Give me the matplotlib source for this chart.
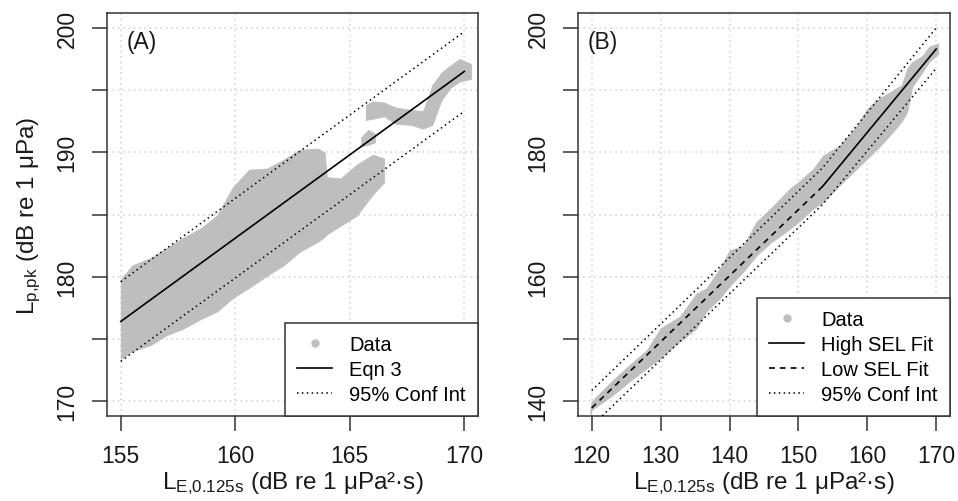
"""two panel peak level vs SEL chart"""

import matplotlib
matplotlib.use("Agg")
from matplotlib import pyplot as plt
from matplotlib.lines import Line2D

plt.rcParams['font.family'] = ['Liberation Sans', 'DejaVu Sans']
plt.rcParams['mathtext.fontset'] = 'custom'
plt.rcParams['mathtext.rm'] = 'Liberation Sans'
plt.rcParams['mathtext.it'] = 'Liberation Sans:italic'

PT_GRAY = '#bebebe'
GRID_GRAY = '#cfcfcf'
INK = '#1a1a1a'

# ---- panel A : data cloud outlines (x, upper edge, lower edge)
a_main_x = [155.0, 155.5, 156.3, 157.0, 157.7, 158.5, 159.2, 159.9, 160.6, 161.4,
            162.1, 162.8, 163.6, 163.9, 164.0, 164.6, 165.3, 166.0, 166.5]
a_main_hi = [179.8, 180.9, 181.5, 182.3, 183.1, 183.9, 184.9, 187.2, 188.6, 188.7,
             189.4, 190.2, 190.3, 190.0, 188.0, 187.9, 189.0, 189.8, 189.5]
a_main_lo = [173.4, 174.0, 174.5, 175.3, 175.8, 176.6, 177.2, 178.3, 179.1, 180.1,
             180.9, 182.0, 182.8, 183.2, 183.4, 184.1, 184.9, 186.6, 187.6]

a_mid_x = [165.5, 165.8, 166.1]
a_mid_hi = [191.2, 191.8, 191.5]
a_mid_lo = [190.5, 190.6, 190.8]

a_top_x = [165.7, 166.0, 166.5, 167.0, 167.7, 168.2, 168.6, 169.0, 169.4, 169.8, 170.3]
a_top_hi = [193.8, 194.1, 194.0, 193.6, 193.4, 193.3, 195.4, 196.4, 197.0, 197.5, 197.1]
a_top_lo = [192.6, 192.7, 192.9, 192.3, 192.2, 191.9, 192.2, 194.2, 195.2, 195.7, 195.9]

# fitted line + 95% band
a_fit_x = [155, 170]
a_fit_y = [176.4, 196.5]
a_ci_hi = [179.6, 199.7]
a_ci_lo = [173.2, 193.3]

# ---- panel B
b_x = [119.8, 120.0, 123.1, 125.5, 128.0, 130.0, 132.8, 135.2, 136.6, 138.6, 140.0,
       142.0, 143.9, 146.0, 148.8, 150.0, 152.2, 153.6, 156.0, 158.5, 160.0, 161.5,
       163.5, 165.0, 165.8, 166.5, 168.0, 169.0, 170.3]
b_hi = [138.8, 140.0, 143.4, 145.8, 148.2, 151.7, 153.6, 157.3, 158.1, 161.3, 164.2,
        165.0, 168.8, 171.0, 174.2, 175.2, 177.4, 179.5, 181.1, 184.3, 187.0, 188.5,
        189.8, 190.8, 193.5, 194.5, 195.5, 197.0, 197.5]
b_lo = [137.7, 138.6, 141.0, 143.2, 145.3, 146.9, 149.6, 151.7, 154.4, 156.5, 158.5,
        160.8, 163.4, 165.5, 167.7, 168.8, 171.0, 172.0, 174.7, 177.4, 179.0, 180.6,
        183.0, 185.0, 186.5, 190.5, 192.9, 194.6, 195.8]

b_low_x = [120.0, 153.5]
b_low_y = [138.9, 174.5]
b_high_x = [153.5, 170.0]
b_high_y = [174.5, 196.6]
b_ci_x = [120.0, 153.5, 170.0]
b_ci_hi = [141.7, 177.5, 200.0]
b_ci_lo = [136.0, 171.6, 193.5]

FS = 16.5
FS_LAB = 17.5
FS_LEG = 14.5
DOT = (0, (1, 2.2))
DASH = (0, (3.5, 3))


def style_axes(ax, xlim, ylim, xticks, yticks, ylabels):
    ax.set_xlim(*xlim)
    ax.set_ylim(*ylim)
    ax.set_xticks(xticks)
    ax.set_yticks(yticks)
    ax.set_yticklabels(ylabels, rotation=90, va='center')
    ax.grid(True, color=GRID_GRAY, linestyle=(0, (1, 2.5)), linewidth=1.1)
    ax.set_axisbelow(True)
    ax.tick_params(axis='both', direction='out', length=10.5, width=1.1, color='#333333',
                   labelsize=FS, labelcolor=INK)
    ax.tick_params(axis='x', pad=10)
    ax.tick_params(axis='y', pad=10)
    for sp in ax.spines.values():
        sp.set_color('#333333')
        sp.set_linewidth(1.1)
    ax.set_xlabel('L$_{\\mathrm{E{,}0.125s}}$ (dB re 1 μPa²·s)', fontsize=FS_LAB,
                  color=INK, labelpad=1)


def legend_box(ax, handles, labels):
    leg = ax.legend(handles, labels, loc='lower right', fontsize=FS_LEG, frameon=True,
                    fancybox=False, borderaxespad=0, handlelength=1.75,
                    handletextpad=0.85, labelspacing=0.3, borderpad=0.6)
    leg.get_frame().set_edgecolor('#333333')
    leg.get_frame().set_linewidth(1.1)
    leg.get_frame().set_alpha(1)
    return leg


fig = plt.figure(figsize=(9.58, 5.02), dpi=100)
axA = fig.add_axes([0.1117, 0.1693, 0.3873, 0.8028])
axB = fig.add_axes([0.6033, 0.1693, 0.3883, 0.8028])

# panel A
for xs, hi, lo in [(a_main_x, a_main_hi, a_main_lo), (a_mid_x, a_mid_hi, a_mid_lo),
                   (a_top_x, a_top_hi, a_top_lo)]:
    axA.fill_between(xs, lo, hi, color=PT_GRAY, linewidth=0.6, edgecolor=PT_GRAY, zorder=2)
axA.plot(a_fit_x, a_fit_y, color='black', linewidth=1.2, zorder=3)
axA.plot(a_fit_x, a_ci_hi, color='black', linewidth=1.1, linestyle=DOT, zorder=3)
axA.plot(a_fit_x, a_ci_lo, color='black', linewidth=1.1, linestyle=DOT, zorder=3)
style_axes(axA, (154.4, 170.6), (168.8, 201.2), [155, 160, 165, 170],
           [170, 175, 180, 185, 190, 195, 200], ['170', '', '180', '', '190', '', '200'])
axA.set_ylabel('L$_{\\mathrm{p{,}pk}}$ (dB re 1 μPa)', fontsize=FS_LAB, color=INK,
               labelpad=9)
axA.text(0.054, 0.93, '(A)', transform=axA.transAxes, fontsize=FS, color=INK,
         va='center', ha='left')

hA = [Line2D([], [], marker='o', linestyle='none', color=PT_GRAY, markersize=5),
      Line2D([], [], color='black', linewidth=1.2),
      Line2D([], [], color='black', linewidth=1.1, linestyle=DOT)]
legend_box(axA, hA, ['Data', 'Eqn 3', '95% Conf Int'])

# panel B
axB.fill_between(b_x, b_lo, b_hi, color=PT_GRAY, linewidth=0.6, edgecolor=PT_GRAY, zorder=2)
axB.plot(b_low_x, b_low_y, color='black', linewidth=1.2, linestyle=DASH, zorder=3)
axB.plot(b_high_x, b_high_y, color='black', linewidth=1.2, zorder=3)
axB.plot(b_ci_x, b_ci_hi, color='black', linewidth=1.1, linestyle=DOT, zorder=3)
axB.plot(b_ci_x, b_ci_lo, color='black', linewidth=1.1, linestyle=DOT, zorder=3)
style_axes(axB, (118, 172), (137.6, 202.4), [120, 130, 140, 150, 160, 170],
           [140, 150, 160, 170, 180, 190, 200], ['140', '', '160', '', '180', '', '200'])
axB.text(0.027, 0.93, '(B)', transform=axB.transAxes, fontsize=FS, color=INK,
         va='center', ha='left')

hB = [Line2D([], [], marker='o', linestyle='none', color=PT_GRAY, markersize=5),
      Line2D([], [], color='black', linewidth=1.2),
      Line2D([], [], color='black', linewidth=1.2, linestyle=DASH),
      Line2D([], [], color='black', linewidth=1.1, linestyle=DOT)]
legend_box(axB, hB, ['Data', 'High SEL Fit', 'Low SEL Fit', '95% Conf Int'])

fig.savefig('out.png', dpi=100)
